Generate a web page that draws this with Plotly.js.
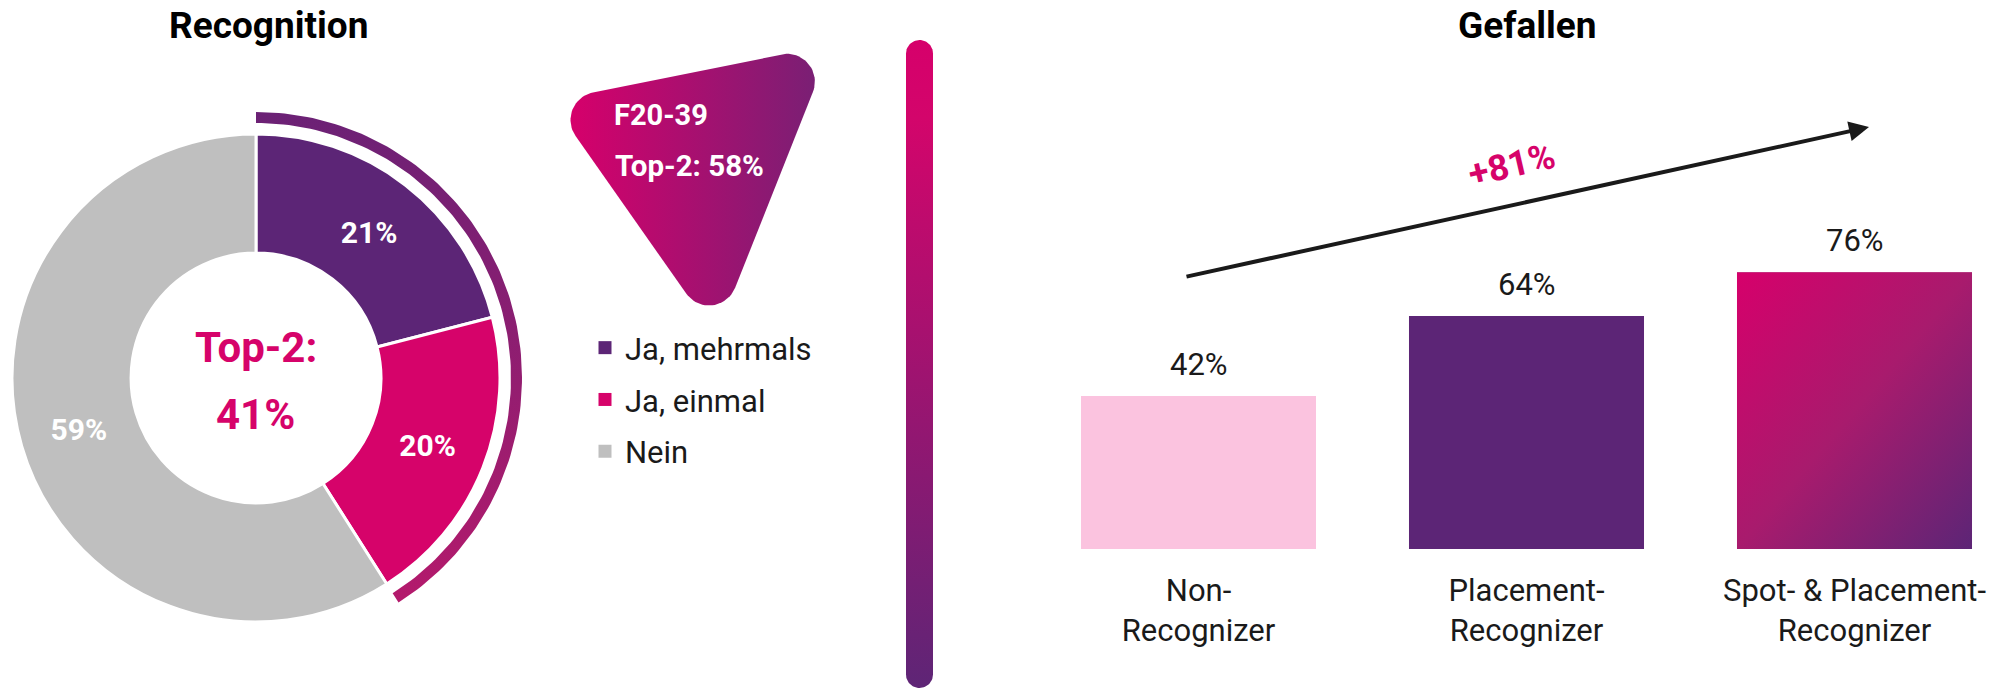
<!DOCTYPE html>
<html>
<head>
<meta charset="utf-8">
<script src="https://cdn.plot.ly/plotly-3.0.1.min.js"></script>
<style>html,body{margin:0;padding:0;background:#fff;}#chart{width:2012px;height:690px;}</style>
</head>
<body>
<div id="chart"></div>
<script>
// ---------- data ----------
const pieTitle = 'Recognition';
const pieLabels = ['Ja, mehrmals', 'Ja, einmal', 'Nein'];
const pieValues = [21, 20, 59];
const top2Label = 'Top-2:';
const segmentName = 'F20-39';
const segmentTop2 = 58;

const barTitle = 'Gefallen';
const barCategories = ['Non-<br>Recognizer', 'Placement-<br>Recognizer', 'Spot- & Placement-<br>Recognizer'];
const barValues = [42, 64, 76];
const growthLabel = '+81%';

// ---------- style ----------
const W = 2012, H = 690;
const FONT = 'Roboto, "Open Sans", sans-serif';
const DARK = '#1A1A1A';
const PINK = '#D6036A';
const PURPLE = '#5C2576';
const GREY = '#BFBFBF';
const LIGHTPINK = '#FBC3DF';
const pieColors = [PURPLE, PINK, GREY];

const top2Value = pieValues[0] + pieValues[1];

// donut geometry (pixels)
const cx = 256, cy = 378, rOuter = 244;
const pieDomX = [(cx - rOuter) / W, (cx + rOuter) / W];
const pieDomY = [(H - cy - rOuter) / H, (H - cy + rOuter) / H];

// top-2 bracket arc computed from the data share
function arcRing(frac, r1, r2) {
  const xs = [], ys = [];
  const end = 2 * Math.PI * frac;
  const n = 120;
  for (let i = 0; i <= n; i++) {
    const t = end * i / n;
    xs.push(cx + r2 * Math.sin(t)); ys.push(cy - r2 * Math.cos(t));
  }
  for (let i = n; i >= 0; i--) {
    const t = end * i / n;
    xs.push(cx + r1 * Math.sin(t)); ys.push(cy - r1 * Math.cos(t));
  }
  xs.push(xs[0]); ys.push(ys[0]);
  return {x: xs, y: ys};
}
const arc = arcRing(top2Value / 100, 255, 266);

// rounded polygon helper
function roundedPolygon(pts, r) {
  const xs = [], ys = [];
  const n = pts.length;
  for (let i = 0; i < n; i++) {
    const P = pts[i], A = pts[(i - 1 + n) % n], B = pts[(i + 1) % n];
    let u1 = [A[0] - P[0], A[1] - P[1]], u2 = [B[0] - P[0], B[1] - P[1]];
    const l1 = Math.hypot(u1[0], u1[1]), l2 = Math.hypot(u2[0], u2[1]);
    u1 = [u1[0] / l1, u1[1] / l1]; u2 = [u2[0] / l2, u2[1] / l2];
    const ang = Math.acos(u1[0] * u2[0] + u1[1] * u2[1]);
    const half = ang / 2;
    const d = r / Math.tan(half);
    const T1 = [P[0] + u1[0] * d, P[1] + u1[1] * d];
    const T2 = [P[0] + u2[0] * d, P[1] + u2[1] * d];
    let bis = [u1[0] + u2[0], u1[1] + u2[1]];
    const lb = Math.hypot(bis[0], bis[1]);
    bis = [bis[0] / lb, bis[1] / lb];
    const dc = r / Math.sin(half);
    const C = [P[0] + bis[0] * dc, P[1] + bis[1] * dc];
    let a1 = Math.atan2(T1[1] - C[1], T1[0] - C[0]);
    let a2 = Math.atan2(T2[1] - C[1], T2[0] - C[0]);
    let da = a2 - a1;
    while (da > Math.PI) da -= 2 * Math.PI;
    while (da < -Math.PI) da += 2 * Math.PI;
    const m = 24;
    for (let k = 0; k <= m; k++) {
      const a = a1 + da * k / m;
      xs.push(C[0] + r * Math.cos(a)); ys.push(C[1] + r * Math.sin(a));
    }
  }
  xs.push(xs[0]); ys.push(ys[0]);
  return {x: xs, y: ys};
}
const bubble = roundedPolygon([[551, 101], [832, 44], [716, 336]], 28);

// vertical divider (rounded)
function pill(x0, x1, y0, y1) {
  const r = (x1 - x0) / 2, xc = (x0 + x1) / 2;
  const xs = [], ys = [];
  for (let k = 0; k <= 30; k++) { const a = Math.PI + Math.PI * k / 30; xs.push(xc + r * Math.cos(a)); ys.push(y0 + r + r * Math.sin(a)); }
  for (let k = 0; k <= 30; k++) { const a = Math.PI * k / 30; xs.push(xc + r * Math.cos(a)); ys.push(y1 - r + r * Math.sin(a)); }
  xs.push(xs[0]); ys.push(ys[0]);
  return {x: xs, y: ys};
}
const divider = pill(906, 933, 40, 688);

// bar geometry
const barWidth = 0.7165;
const gradSvg = '<svg xmlns="http://www.w3.org/2000/svg" width="100" height="100" viewBox="0 0 100 100" preserveAspectRatio="none">' +
  '<defs><linearGradient id="g" x1="0" y1="0" x2="1" y2="1"><stop offset="0" stop-color="#D6006B"/><stop offset="0.5" stop-color="#A81B6D"/><stop offset="1" stop-color="#5C2576"/></linearGradient></defs>' +
  '<rect width="100" height="100" fill="url(#g)"/></svg>';
const gradUri = 'data:image/svg+xml;charset=utf-8,' + encodeURIComponent(gradSvg);

const traces = [
  {
    type: 'pie', labels: pieLabels, values: pieValues, sort: false, direction: 'clockwise', rotation: 0,
    hole: 0.512, domain: {x: pieDomX, y: pieDomY},
    marker: {colors: pieColors, line: {color: '#FFFFFF', width: 3}},
    texttemplate: '%{value}%', textposition: 'inside', insidetextorientation: 'horizontal',
    textfont: {family: FONT, size: 30, color: '#FFFFFF', weight: 700},
    hoverinfo: 'none', showlegend: false
  },
  {
    type: 'bar', x: [0, 1, 2], y: barValues, xaxis: 'x', yaxis: 'y', width: barWidth,
    marker: {color: [LIGHTPINK, PURPLE, '#A81B6D'], line: {width: 0}},
    hoverinfo: 'none', showlegend: false
  },
  {
    type: 'scatter', mode: 'lines', x: arc.x, y: arc.y, xaxis: 'x2', yaxis: 'y2',
    fill: 'toself', line: {width: 0, color: 'rgba(0,0,0,0)'},
    fillgradient: {type: 'vertical', colorscale: [[0, '#B41A6C'], [1, '#6B2175']]},
    hoverinfo: 'none', showlegend: false
  },
  {
    type: 'scatter', mode: 'lines', x: bubble.x, y: bubble.y, xaxis: 'x2', yaxis: 'y2',
    fill: 'toself', line: {width: 0, color: 'rgba(0,0,0,0)'},
    fillgradient: {type: 'horizontal', colorscale: [[0, '#D6006B'], [1, '#7A1F74']]},
    hoverinfo: 'none', showlegend: false
  },
  {
    type: 'scatter', mode: 'lines', x: divider.x, y: divider.y, xaxis: 'x2', yaxis: 'y2',
    fill: 'toself', line: {width: 0, color: 'rgba(0,0,0,0)'},
    fillgradient: {type: 'vertical', colorscale: [[0, '#5E2576'], [0.88, '#D3056B'], [1, '#D6006B']]},
    hoverinfo: 'none', showlegend: false
  }
];
// legend entries for the donut categories
pieLabels.forEach((lab, i) => {
  traces.push({
    type: 'scatter', mode: 'markers', x: [null], y: [null], xaxis: 'x2', yaxis: 'y2',
    name: lab, legendgroup: 'g' + i, showlegend: true,
    marker: {symbol: 'square', size: 13, color: pieColors[i]}, hoverinfo: 'none'
  });
});

const annotations = [
  {xref: 'paper', yref: 'paper', x: 268 / W, y: (H - 26) / H, text: pieTitle, showarrow: false,
   font: {family: FONT, size: 37, color: '#000000', weight: 700}, xanchor: 'center', yanchor: 'middle'},
  {xref: 'paper', yref: 'paper', x: 1527 / W, y: (H - 26) / H, text: barTitle, showarrow: false,
   font: {family: FONT, size: 37, color: '#000000', weight: 700}, xanchor: 'center', yanchor: 'middle'},
  {xref: 'paper', yref: 'paper', x: cx / W, y: (H - 347) / H, text: top2Label, showarrow: false,
   font: {family: FONT, size: 42, color: PINK, weight: 700}, xanchor: 'center', yanchor: 'middle'},
  {xref: 'paper', yref: 'paper', x: cx / W, y: (H - 414) / H, text: top2Value + '%', showarrow: false,
   font: {family: FONT, size: 42, color: PINK, weight: 700}, xanchor: 'center', yanchor: 'middle'},
  {xref: 'paper', yref: 'paper', x: 612 / W, y: (H - 115) / H, text: segmentName, showarrow: false,
   font: {family: FONT, size: 29, color: '#FFFFFF', weight: 700}, xanchor: 'left', yanchor: 'middle'},
  {xref: 'paper', yref: 'paper', x: 613 / W, y: (H - 166) / H, text: 'Top-2: ' + segmentTop2 + '%', showarrow: false,
   font: {family: FONT, size: 29.5, color: '#FFFFFF', weight: 700}, xanchor: 'left', yanchor: 'middle'},
  {xref: 'paper', yref: 'paper', x: 1869 / W, y: (H - 127) / H, ax: -684, ay: 150, text: '', showarrow: true,
   arrowhead: 2, arrowsize: 1, arrowwidth: 4, arrowcolor: DARK},
  {xref: 'paper', yref: 'paper', x: 1512 / W, y: (H - 165) / H, text: growthLabel, showarrow: false, textangle: -13,
   font: {family: FONT, size: 36, color: PINK, weight: 700}, xanchor: 'center', yanchor: 'middle'}
];
barValues.forEach((v, i) => {
  annotations.push({xref: 'x', yref: 'y', x: i, y: v, text: v + '%', showarrow: false, yanchor: 'bottom', yshift: 11,
    font: {family: FONT, size: 31, color: DARK}});
});

const layout = {
  width: W, height: H, margin: {l: 0, r: 0, t: 0, b: 0},
  paper_bgcolor: '#FFFFFF', plot_bgcolor: 'rgba(0,0,0,0)',
  font: {family: FONT, color: DARK},
  showlegend: true,
  legend: {x: 585 / W, y: (H - 321) / H, xanchor: 'left', yanchor: 'top', font: {family: FONT, size: 31, color: DARK},
           bgcolor: 'rgba(0,0,0,0)', traceorder: 'grouped', tracegroupgap: 8.5, itemclick: false},
  bargap: 0.2835,
  xaxis: {domain: [1034.5 / W, 2002.1 / W], range: [-0.5, 2.45], tickmode: 'array', tickvals: [0, 1, 2], ticktext: barCategories,
          showgrid: false, zeroline: false, showline: false, ticks: '', ticklabelstandoff: 20,
          tickfont: {family: FONT, size: 31, color: DARK}, fixedrange: true},
  yaxis: {domain: [141 / H, 505 / H], range: [0, 100], visible: false, fixedrange: true},
  xaxis2: {domain: [0, 1], range: [0, W], visible: false, anchor: 'y2', fixedrange: true},
  yaxis2: {domain: [0, 1], range: [H, 0], visible: false, anchor: 'x2', fixedrange: true},
  annotations: annotations,
  images: [{source: gradUri, xref: 'x', yref: 'y', x: 2 - barWidth / 2, y: barValues[2], sizex: barWidth, sizey: barValues[2],
            xanchor: 'left', yanchor: 'top', sizing: 'stretch', layer: 'above'}]
};

Plotly.newPlot('chart', traces, layout, {displayModeBar: false, staticPlot: true});
</script>
</body>
</html>
